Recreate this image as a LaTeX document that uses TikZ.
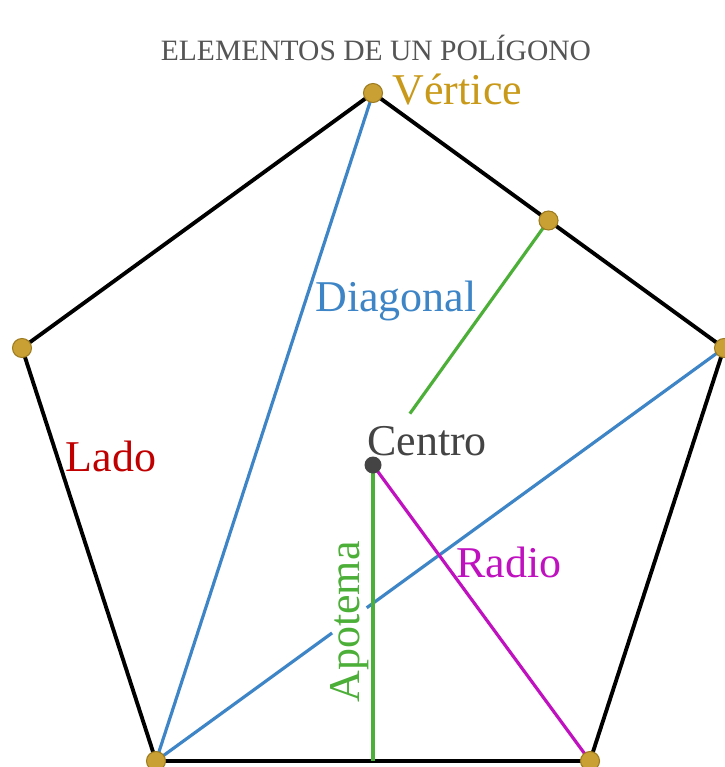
\documentclass[tikz,border=0pt]{standalone}
\usepackage{fontspec}
\setmainfont{Liberation Serif}
\usetikzlibrary{calc}
\definecolor{vgold}{HTML}{C9A033}
\definecolor{vgoldd}{HTML}{9C7A1E}
\definecolor{vtext}{HTML}{C9991A}
\definecolor{dblue}{HTML}{3D85C6}
\definecolor{agreen}{HTML}{4CAF38}
\definecolor{rmag}{HTML}{C011C0}
\definecolor{lred}{HTML}{C00000}
\definecolor{cgray}{HTML}{444444}
\definecolor{tgray}{HTML}{555555}
\begin{document}
\begin{tikzpicture}[x=0.01cm,y=-0.01cm,
  side/.style={draw=black,line width=1.1pt,line join=round},
  diag/.style={draw=dblue,line width=0.9pt},
  apot/.style={draw=agreen,line width=0.9pt},
  rad/.style={draw=rmag,line width=0.9pt},
  vdot/.style={circle,fill=vgold,draw=vgoldd,line width=0.3pt,minimum size=0.19cm,inner sep=0pt},
  cdot/.style={circle,fill=cgray,minimum size=0.17cm,inner sep=0pt},
  lbl/.style={font=\fontsize{12.5}{14}\selectfont,inner sep=0pt}]
\useasboundingbox (0,0) rectangle (724,767);
\fill[white] (0,0) rectangle (724,767);
% vertices
\coordinate (T) at (373,93);
\coordinate (R) at (724,348);
\coordinate (BR) at (590,761);
\coordinate (BL) at (156,761);
\coordinate (L) at (22,348);
\coordinate (C) at (373,465);
\coordinate (M) at ($(T)!0.5!(R)$);
\coordinate (MB) at (373,761);
% sides
\draw[side] (T) -- (R) -- (BR) -- (BL) -- (L) -- cycle;
% diagonals
\draw[diag] (BL) -- (T);
\coordinate (G1) at ($(BL)!0.31!(R)$);
\coordinate (G2) at ($(BL)!0.371!(R)$);
\draw[diag] (BL) -- (G1);
\draw[diag] (G2) -- (R);
% apothems
\coordinate (A1) at ($(C)!0.21!(M)$);
\draw[apot] (A1) -- (M);
\draw[apot] (C) -- (MB);
% radius
\draw[rad] (C) -- (BR);
% dots
\node[vdot] (vT) at (T) {};
\node[vdot] (vR) at (R) {};
\node[vdot] (vBR) at (BR) {};
\node[vdot] (vBL) at (BL) {};
\node[vdot] (vL) at (L) {};
\node[vdot] (vM) at (M) {};
\node[cdot] (vC) at (C) {};
% labels
\node[font=\fontsize{8.4}{10}\selectfont,text=tgray,inner sep=0pt] (title) at (376,48) {ELEMENTOS DE UN POLÍGONO};
\node[lbl,text=vtext,anchor=west] (lv) at (392,90) {Vértice};
\node[lbl,text=dblue] (ld) at (396,301) {Diagonal};
\node[lbl,text=cgray] (lc) at (427,441) {Centro};
\node[lbl,text=lred] (ll) at (111,456) {Lado};
\node[lbl,text=rmag] (lr) at (509,562) {Radio};
\node[lbl,text=agreen,rotate=90] (la) at (350,622) {Apotema};
\end{tikzpicture}
\end{document}
